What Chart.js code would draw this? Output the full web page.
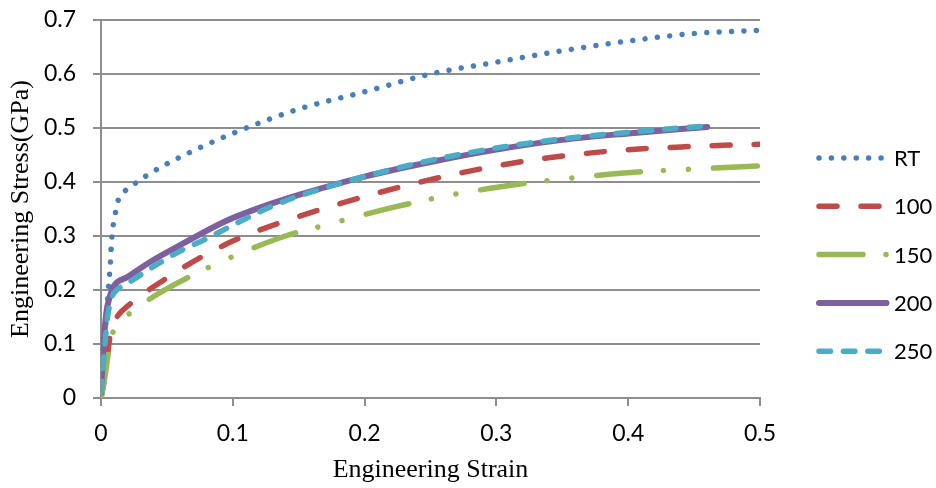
<!DOCTYPE html>
<html>
<head>
<meta charset="utf-8">
<script src="https://cdn.jsdelivr.net/npm/chart.js@4/dist/chart.umd.min.js"></script>
<style>
  html, body { margin: 0; padding: 0; background: #fff; }
  #wrap { width: 936px; height: 488px; }
</style>
</head>
<body>
<div id="wrap"><canvas id="c" width="936" height="488"></canvas></div>
<script>
// --- data (strain, stress GPa) ---
const seriesNames = ['RT', '100', '150', '200', '250'];

const strainRT = [0, 0.002, 0.0055, 0.007, 0.008, 0.009, 0.0106, 0.012, 0.017, 0.024, 0.04, 0.065, 0.1, 0.15, 0.2, 0.25, 0.3, 0.35, 0.4, 0.45, 0.5];
const stressRT = [0, 0.08, 0.2, 0.246, 0.29, 0.315, 0.337, 0.358, 0.38, 0.394, 0.42, 0.452, 0.49, 0.535, 0.567, 0.6, 0.622, 0.643, 0.661, 0.675, 0.681];

const strain100 = [0, 0.003, 0.006, 0.008, 0.012, 0.022, 0.048, 0.076, 0.105, 0.14, 0.2, 0.26, 0.32, 0.39, 0.45, 0.5];
const stress100 = [0, 0.04, 0.1, 0.13, 0.15, 0.174, 0.219, 0.261, 0.296, 0.328, 0.373, 0.41, 0.438, 0.458, 0.466, 0.47];

const strain150 = [0, 0.003, 0.006, 0.01, 0.02, 0.04, 0.07, 0.1, 0.14, 0.17, 0.22, 0.27, 0.33, 0.36, 0.41, 0.45, 0.5];
const stress150 = [0, 0.04, 0.09, 0.128, 0.153, 0.188, 0.228, 0.262, 0.3, 0.32, 0.352, 0.378, 0.4, 0.408, 0.419, 0.424, 0.43];

const strain200 = [0, 0.0015, 0.004, 0.007, 0.0094, 0.02, 0.04, 0.06, 0.094, 0.12, 0.15, 0.2, 0.25, 0.3, 0.35, 0.4, 0.46];
const stress200 = [0.01, 0.083, 0.157, 0.19, 0.206, 0.224, 0.256, 0.283, 0.327, 0.352, 0.376, 0.41, 0.437, 0.46, 0.478, 0.49, 0.502];

const strain250 = [0, 0.003, 0.005, 0.008, 0.012, 0.02, 0.03, 0.045, 0.06, 0.08, 0.1, 0.125, 0.15, 0.2, 0.25, 0.3, 0.35, 0.4, 0.455];
const stress250 = [0.01, 0.1, 0.15, 0.185, 0.2, 0.212, 0.228, 0.251, 0.272, 0.295, 0.32, 0.35, 0.374, 0.41, 0.44, 0.463, 0.48, 0.492, 0.503];

const xTickLabels = ['0', '0.1', '0.2', '0.3', '0.4', '0.5'];
const yTickLabels = ['0', '0.1', '0.2', '0.3', '0.4', '0.5', '0.6', '0.7'];

const pts = (xs, ys) => xs.map((x, i) => ({ x: x, y: ys[i] }));

const GRID = '#8e8e8e';
const TICK_FONT = { family: 'Lato', size: 23 };
const TITLE_FONT = { family: '"Liberation Serif"', size: 26 };

function line(label, data, color, dash, order, width) {
    return {
        label: label,
        data: data,
        borderColor: color,
        backgroundColor: color,
        borderWidth: width || 5.5,
        borderDash: dash,
        borderCapStyle: 'round',
        borderJoinStyle: 'round',
        pointRadius: 0,
        showLine: true,
        cubicInterpolationMode: 'monotone',
        order: order
    };
}

// legend drawn at the right, using each dataset's own line style
const sideLegend = {
    id: 'sideLegend',
    afterDraw(chart) {
        const ctx = chart.ctx;
        chart.data.datasets.forEach((ds, i) => {
            const y = 158 + i * 48.3;
            ctx.save();
            ctx.strokeStyle = ds.borderColor;
            ctx.lineWidth = ds.borderWidth;
            ctx.lineCap = 'round';
            ctx.setLineDash(ds.borderDash || []);
            ctx.beginPath();
            ctx.moveTo(819, y);
            ctx.lineTo(886.5, y);
            ctx.stroke();
            ctx.setLineDash([]);
            ctx.fillStyle = '#000';
            ctx.font = '22px Lato';
            ctx.textBaseline = 'middle';
            ctx.fillText(ds.label, 894, y + 1);
            ctx.restore();
        });
    }
};

// keep the tick-label overhang from moving the plot area
const noOverhang = s => {
    s.paddingTop = 0;
    s.paddingBottom = 0;
    s.paddingLeft = 0;
    s.paddingRight = 0;
};

new Chart(document.getElementById('c'), {
    type: 'scatter',
    data: {
        datasets: [
            line(seriesNames[0], pts(strainRT, stressRT), '#4a7ebb', [0.01, 12.4], 4),
            line(seriesNames[1], pts(strain100, stress100), '#be4b48', [18, 24], 3),
            line(seriesNames[2], pts(strain150, stress150), '#98b954', [44, 23, 0.01, 25, 0.01, 25], 2),
            line(seriesNames[3], pts(strain200, stress200), '#7d60a0', [], 1, 6),
            line(seriesNames[4], pts(strain250, stress250), '#4bacc6', [11.5, 12.9], 0)
        ]
    },
    options: {
        responsive: false,
        animation: false,
        layout: { padding: { top: 20, right: 176, left: 0, bottom: 0 } },
        plugins: {
            legend: { display: false },
            tooltip: { enabled: false }
        },
        scales: {
            x: {
                type: 'linear',
                min: 0,
                max: 0.5,
                afterFit: s => { s.height = 90; noOverhang(s); },
                afterBuildTicks: s => { s.ticks = xTickLabels.map(v => ({ value: parseFloat(v) })); },
                ticks: {
                    color: '#000',
                    font: TICK_FONT,
                    padding: 14,
                    maxRotation: 0,
                    callback: (v, i) => xTickLabels[i]
                },
                grid: { drawOnChartArea: false, drawTicks: true, tickLength: 8, color: GRID, lineWidth: 2 },
                border: { display: true, color: GRID, width: 2 },
                title: {
                    display: true,
                    text: 'Engineering Strain',
                    color: '#000',
                    font: TITLE_FONT,
                    padding: { top: 0, bottom: 2 }
                }
            },
            y: {
                type: 'linear',
                min: 0,
                max: 0.7,
                afterFit: s => { s.width = 101; noOverhang(s); },
                afterBuildTicks: s => { s.ticks = yTickLabels.map(v => ({ value: parseFloat(v) })); },
                ticks: {
                    color: '#000',
                    font: TICK_FONT,
                    padding: 17,
                    callback: (v, i) => yTickLabels[i]
                },
                grid: { drawTicks: true, tickLength: 8, color: GRID, lineWidth: 2 },
                border: { display: true, color: GRID, width: 2 },
                title: {
                    display: true,
                    text: 'Engineering Stress(GPa)',
                    color: '#000',
                    font: TITLE_FONT,
                    padding: { top: 6, bottom: 0 }
                }
            }
        }
    },
    plugins: [sideLegend]
});
</script>
</body>
</html>
